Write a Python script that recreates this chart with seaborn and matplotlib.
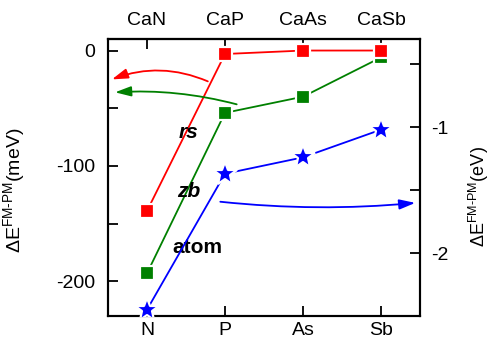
import matplotlib
matplotlib.use("Agg")
import matplotlib.pyplot as plt
import seaborn as sns
from matplotlib.ticker import MultipleLocator, NullFormatter

# Compounds and anions along the x axis
compounds = ["CaN", "CaP", "CaAs", "CaSb"]
anions = ["N", "P", "As", "Sb"]
xpos = [0, 1, 2, 3]

# FM-PM energy differences
rs_mev = [-139, -3, 0, 0]          # rock-salt, meV
zb_mev = [-193, -54, -40, -6]      # zinc-blende, meV
atom_ev = [-2.45, -1.37, -1.24, -1.02]  # isolated atom, eV

sns.set_style("ticks")
plt.rcParams["font.family"] = ["Liberation Sans", "DejaVu Sans"]
plt.rcParams["mathtext.fontset"] = "custom"
plt.rcParams["mathtext.rm"] = "Liberation Sans"
plt.rcParams["mathtext.it"] = "Liberation Sans:italic"
plt.rcParams["mathtext.bf"] = "Liberation Sans:bold"
plt.rcParams["font.size"] = 14
plt.rcParams["axes.unicode_minus"] = False
for key in ("text.color", "axes.labelcolor", "xtick.color", "ytick.color",
            "axes.edgecolor"):
    plt.rcParams[key] = "black"

fig = plt.figure(figsize=(4.9, 3.4), dpi=100)
ax = fig.add_axes([0.2204, 0.0706, 0.6367, 0.8147])
ax2 = ax.twinx()

RED, GREEN, BLUE = "#ff0000", "#008000", "#0000ff"
common = dict(linewidth=1.3, markeredgecolor="white", markeredgewidth=1.6)

sns.lineplot(x=xpos, y=zb_mev, ax=ax, color=GREEN, marker="s", markersize=10.5,
             zorder=3, **common)
sns.lineplot(x=xpos, y=rs_mev, ax=ax, color=RED, marker="s", markersize=10.5,
             zorder=4, **common)
sns.lineplot(x=xpos, y=atom_ev, ax=ax2, color=BLUE, marker="*", markersize=18,
             zorder=3, **common)

ax.set_xlim(-0.5, 3.5)
ax.set_ylim(-230, 10)
ax2.set_ylim(-2.5, -0.3)

# Bottom axis: anions
ax.set_xticks(xpos, anions)
# Top axis: compounds
top = ax.secondary_xaxis("top")
top.set_xticks(xpos, compounds)
top.tick_params(direction="in", length=7, width=1.3, pad=7, labelsize=14,
                colors="black")

ax.yaxis.set_major_locator(MultipleLocator(100))
ax.yaxis.set_minor_locator(MultipleLocator(50))
ax.yaxis.set_minor_formatter(NullFormatter())
ax2.yaxis.set_major_locator(MultipleLocator(1))
ax2.yaxis.set_minor_locator(MultipleLocator(0.5))
ax2.yaxis.set_minor_formatter(NullFormatter())

ax.tick_params(axis="y", which="both", direction="in", length=7, width=1.3,
               pad=9, labelsize=14, left=True, right=False, colors="black")
ax.tick_params(axis="x", direction="in", length=7, width=1.3, pad=4,
               labelsize=14, top=False, colors="black")
ax2.tick_params(axis="y", which="both", direction="in", length=7, width=1.3,
                pad=8, labelsize=14, right=True, left=False, colors="black")

for a in (ax, ax2, top):
    for s in a.spines.values():
        s.set_linewidth(1.5)
        s.set_color("black")

ax.set_ylabel(r"$\Delta$E$^{\mathrm{FM\text{-}PM}}$(meV)", fontsize=14)
ax.yaxis.set_label_coords(-0.26, 0.455)
ax2.set_ylabel(r"$\Delta$E$^{\mathrm{FM\text{-}PM}}$(eV)", fontsize=13,
               rotation=90)
ax2.yaxis.set_label_coords(1.15, 0.43)

# Curved arrows pointing each series to its axis
def curved(a, start, end, color, rad):
    a.annotate("", xy=end, xytext=start,
               arrowprops=dict(arrowstyle="-|>,head_length=0.8,head_width=0.25",
                               color=color, lw=1.3, mutation_scale=12,
                               shrinkA=0, shrinkB=0,
                               connectionstyle=f"arc3,rad={rad}"),
               zorder=5)

curved(ax, (0.78, -26.7), (-0.45, -25), RED, 0.2)
curved(ax, (1.15, -46.6), (-0.41, -36.2), GREEN, 0.08)
curved(ax, (0.94, -131), (3.44, -132), BLUE, 0.05)

ax.text(0.53, -71, "rs", fontsize=15, fontweight="bold", style="italic",
        ha="center", va="center", zorder=6)
ax.text(0.53, -122, "zb", fontsize=15, fontweight="bold", style="italic",
        ha="center", va="center", zorder=6)
ax.text(0.65, -171, "atom", fontsize=15, fontweight="bold",
        ha="center", va="center", zorder=6)

fig.savefig("out.png", dpi=100)
